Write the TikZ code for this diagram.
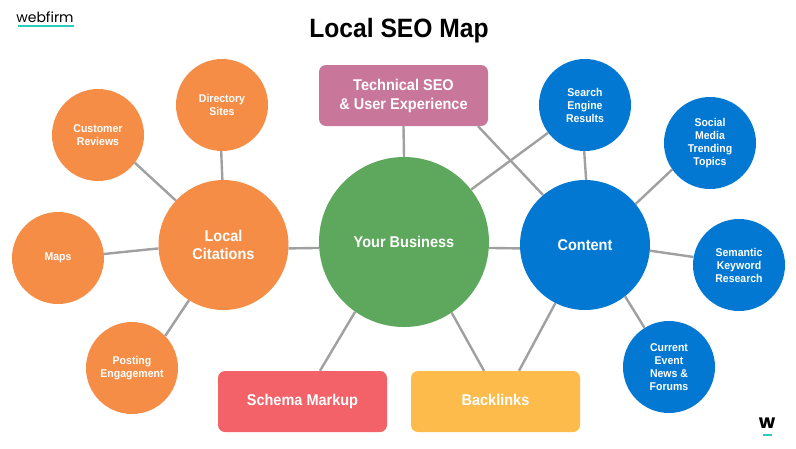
\documentclass[tikz,border=0pt]{standalone}
\usepackage{fontspec}
\setmainfont[FakeStretch=0.93]{Liberation Sans}
\newfontfamily\logofont{Poppins}
\usepackage{xcolor}
\usetikzlibrary{positioning}
\definecolor{orangefill}{HTML}{F68D47}
\definecolor{bluefill}{HTML}{0278D3}
\definecolor{greenfill}{HTML}{5DA85C}
\definecolor{pinkfill}{HTML}{C9769B}
\definecolor{redfill}{HTML}{F26268}
\definecolor{yellowfill}{HTML}{FDBB4B}
\definecolor{linkgray}{HTML}{A0A0A0}
\definecolor{tealbar}{HTML}{2CCDB8}

\begin{document}
\begin{tikzpicture}[
    x=1pt, y=-1pt,
    small/.style={circle, draw=none, minimum size=92pt, inner sep=0pt, align=center, text=white, font=\bfseries\fontsize{11.3}{13}\selectfont},
    big/.style={circle, draw=none, minimum size=130pt, inner sep=0pt, align=center, text=white, font=\bfseries\fontsize{15.6}{18}\selectfont},
    hub/.style={big, minimum size=170pt},
    card/.style={rectangle, rounded corners=7pt, draw=none, minimum width=169pt, minimum height=61pt, inner sep=0pt, align=center, text=white, font=\bfseries\fontsize{15.6}{19}\selectfont},
    oneline/.style={card, text height=11pt, text depth=3pt},
    link/.style={draw=linkgray, line width=2.4pt},
    bar/.style={draw=tealbar, line width=1.5pt}
]
\useasboundingbox (0,0) rectangle (796,448);

\node (title) at (399,31) [font=\bfseries\fontsize{26.5}{30}\selectfont] {Local SEO Map};
\node (logo) at (45,17) [font=\logofont\fontsize{14}{17}\selectfont, inner sep=0pt] {webfirm};
\node (mark) at (767,423) [font=\logofont\bfseries\fontsize{19}{19}\selectfont, inner sep=0pt] {w};
\coordinate (logoa) at (18,26);
\coordinate (logob) at (74,26);
\coordinate (marka) at (763,435);
\coordinate (markb) at (772,435);
\draw[bar] (logoa) -- (logob);
\draw[bar] (marka) -- (markb);

\node (business) at (404,242) [hub, fill=greenfill] {Your Business};
\node (citations) at (223.5,245) [big, fill=orangefill] {Local\\Citations};
\node (content) at (585,245) [big, fill=bluefill] {Content};

\node (directory) at (222,105) [small, fill=orangefill] {Directory\\Sites};
\node (reviews) at (98,135) [small, fill=orangefill] {Customer\\Reviews};
\node (maps) at (58,258) [small, fill=orangefill] {Maps};
\node (posting) at (132,368) [small, fill=orangefill] {Posting\\Engagement};

\node (search) at (585,105) [small, fill=bluefill] {Search\\Engine\\Results};
\node (social) at (710,143) [small, fill=bluefill] {Social\\Media\\Trending\\Topics};
\node (semantic) at (739,265) [small, fill=bluefill] {Semantic\\Keyword\\Research};
\node (current) at (669,367) [small, fill=bluefill] {Current\\Event\\News \&\\Forums};

\node (technical) at (403.5,95.5) [card, fill=pinkfill] {Technical SEO\\\& User Experience};
\node (schema) at (302.5,401.5) [oneline, fill=redfill] {Schema Markup};
\node (backlinks) at (495.5,401.5) [oneline, fill=yellowfill] {Backlinks};

\draw[link] (citations.91) -- (directory.-91);
\draw[link] (citations.137) -- (reviews.-37);
\draw[link] (citations.183) -- (maps.5);
\draw[link] (citations.238) -- (posting.44);
\draw[link] (content.89) -- (search.-91);
\draw[link] (content.39.5) -- (social.215.6);
\draw[link] (content.-5.4) -- (semantic.170);
\draw[link] (content.-52.6) -- (current.122);
\draw[link] (business.184.4) -- (citations.-3);
\draw[link] (business.-4.4) -- (content.183);
\draw[link] (business.38.8) -- (search.217);
\draw[link] (business.235.4) -- ([xshift=17.5pt]schema.north);
\draw[link] (business.-56) -- ([xshift=-11.5pt]backlinks.north);
\draw[link] (business.north) -- (technical.south);
\draw[link] ([xshift=74.5pt]technical.south) -- (content.130);
\draw[link] (content.243.4) -- ([xshift=23.5pt]backlinks.north);
\end{tikzpicture}
\end{document}
